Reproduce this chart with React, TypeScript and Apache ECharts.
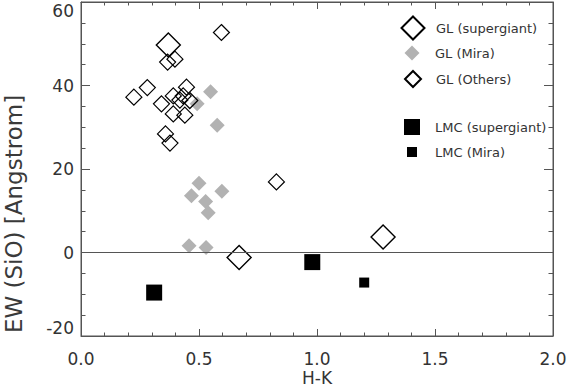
import React, { useEffect, useRef } from "react";
import * as echarts from "echarts";

const glSupergiant: number[][] = [
  [0.37, 49.7],
  [0.67, -1.2],
  [1.28, 3.7],
];
const glMira: number[][] = [
  [0.549, 38.5],
  [0.577, 30.5],
  [0.492, 35.6],
  [0.5, 16.6],
  [0.468, 13.6],
  [0.597, 14.7],
  [0.528, 12.2],
  [0.539, 9.5],
  [0.458, 1.6],
  [0.53, 1.2],
];
const glOthers: number[][] = [
  [0.595, 52.7],
  [0.367, 45.6],
  [0.398, 46.3],
  [0.281, 39.5],
  [0.224, 37.2],
  [0.341, 35.6],
  [0.391, 37.5],
  [0.447, 39.6],
  [0.433, 37.5],
  [0.461, 36.4],
  [0.419, 36.5],
  [0.391, 33.2],
  [0.44, 32.9],
  [0.358, 28.4],
  [0.377, 26.2],
  [0.828, 16.9],
];
const lmcSupergiant: number[][] = [
  [0.31, -9.6],
  [0.98, -2.3],
];
const lmcMira: number[][] = [[1.2, -7.2]];

const seriesNames = [
  "GL (supergiant)",
  "GL (Mira)",
  "GL (Others)",
  "LMC (supergiant)",
  "LMC (Mira)",
];

const FONT = "DejaVu Sans";
const AX = "#555";

export default function App() {
  const ref = useRef<HTMLDivElement>(null);
  useEffect(() => {
    if (!ref.current) return;
    const chart = echarts.init(ref.current, null, { renderer: "svg" });
    const openStyle = (w: number) => ({
      color: "rgba(0,0,0,0)",
      borderColor: "#000",
      borderWidth: w,
      opacity: 1,
    });
    // icon centred at x=412, text starting at x=435
    const legendItem = (name: string, cy: number, h: number) => ({
      data: [name],
      orient: "horizontal",
      left: 412 - h / 2,
      top: cy - Math.max(h, 15) / 2,
      padding: 0,
      itemWidth: h,
      itemHeight: h,
      itemGap: 0,
      selectedMode: false,
      textStyle: {
        fontFamily: FONT,
        fontSize: 13,
        color: "#333",
        padding: [0, 0, 0, 435 - (412 + h / 2) - 5],
      },
    });
    const xCommon = {
      type: "value",
      min: 0,
      max: 2,
      interval: 0.5,
      axisLine: { show: true, onZero: false, lineStyle: { color: AX, width: 1 } },
      axisTick: { show: true, inside: true, length: 7, lineStyle: { color: AX } },
      minorTick: { show: true, splitNumber: 5, length: 3.5, lineStyle: { color: AX } },
      splitLine: { show: false },
      minorSplitLine: { show: false },
    };
    const yCommon = {
      type: "value",
      min: -20,
      max: 60,
      interval: 20,
      axisLine: { show: true, onZero: false, lineStyle: { color: AX, width: 1 } },
      axisTick: { show: true, inside: true, length: 9, lineStyle: { color: AX } },
      minorTick: { show: true, splitNumber: 4, length: 4.5, lineStyle: { color: AX } },
      splitLine: { show: false },
      minorSplitLine: { show: false },
    };
    chart.setOption({
      animation: false,
      backgroundColor: "#fff",
      textStyle: { fontFamily: FONT },
      grid: {
        left: 81,
        right: 14,
        top: 2,
        bottom: 53,
        containLabel: false,
        outerBoundsMode: "none",
        show: true,
        borderColor: AX,
        borderWidth: 1,
        backgroundColor: "transparent",
      },
      legend: [
        legendItem(seriesNames[0], 27, 23),
        legendItem(seriesNames[1], 53, 15),
        legendItem(seriesNames[2], 78, 16),
        legendItem(seriesNames[3], 127, 16),
        legendItem(seriesNames[4], 153, 10),
      ],
      xAxis: [
        {
          ...xCommon,
          position: "bottom",
          name: "H-K",
          nameLocation: "middle",
          nameGap: 33,
          nameMoveOverlap: false,
          nameTextStyle: { fontFamily: FONT, fontSize: 17, color: "#333" },
          axisLabel: {
            show: true,
            margin: 14,
            fontFamily: FONT,
            fontSize: 17,
            color: "#333",
            formatter: (v: number) => v.toFixed(1),
          },
        },
        {
          ...xCommon,
          position: "top",
          axisLabel: { show: false },
        },
      ],
      yAxis: [
        {
          ...yCommon,
          position: "left",
          name: "EW (SiO) [Angstrom]",
          nameLocation: "middle",
          nameGap: 56,
          nameMoveOverlap: false,
          nameTextStyle: {
            fontFamily: FONT,
            fontSize: 23,
            color: "#3a3a3a",
            padding: [0, 90, 0, 0],
          },
          axisLabel: {
            show: true,
            margin: 7,
            fontFamily: FONT,
            fontSize: 17,
            color: "#333",
            verticalAlignMaxLabel: "top",
            verticalAlignMinLabel: "bottom",
          },
        },
        {
          ...yCommon,
          position: "right",
          axisLabel: { show: false },
        },
      ],
      series: [
        {
          name: seriesNames[0],
          type: "scatter",
          symbol: "diamond",
          symbolSize: 24,
          data: glSupergiant,
          itemStyle: openStyle(1.4),
          z: 4,
        },
        {
          name: seriesNames[1],
          type: "scatter",
          symbol: "diamond",
          symbolSize: 15,
          data: glMira,
          itemStyle: { color: "#b2b2b2", opacity: 1 },
          z: 2,
          markLine: {
            silent: true,
            symbol: "none",
            label: { show: false },
            lineStyle: { color: AX, width: 1, type: "solid" },
            data: [{ yAxis: 0 }],
          },
        },
        {
          name: seriesNames[2],
          type: "scatter",
          symbol: "diamond",
          symbolSize: 16,
          data: glOthers,
          itemStyle: openStyle(1.2),
          z: 3,
        },
        {
          name: seriesNames[3],
          type: "scatter",
          symbol: "rect",
          symbolSize: 16,
          data: lmcSupergiant,
          itemStyle: { color: "#000", opacity: 1 },
          z: 4,
        },
        {
          name: seriesNames[4],
          type: "scatter",
          symbol: "rect",
          symbolSize: 10,
          data: lmcMira,
          itemStyle: { color: "#000", opacity: 1 },
          z: 4,
        },
        {
          // invisible helper bound to the top/right frame axes so they render their ticks
          name: "frame",
          type: "scatter",
          xAxisIndex: 1,
          yAxisIndex: 1,
          symbolSize: 0,
          silent: true,
          itemStyle: { opacity: 0 },
          data: lmcMira,
          z: 0,
        },
      ],
    });
    return () => chart.dispose();
  }, []);
  return (
    <div
      ref={ref}
      style={{ position: "fixed", left: 0, top: 0, width: 567, height: 389 }}
    />
  );
}
